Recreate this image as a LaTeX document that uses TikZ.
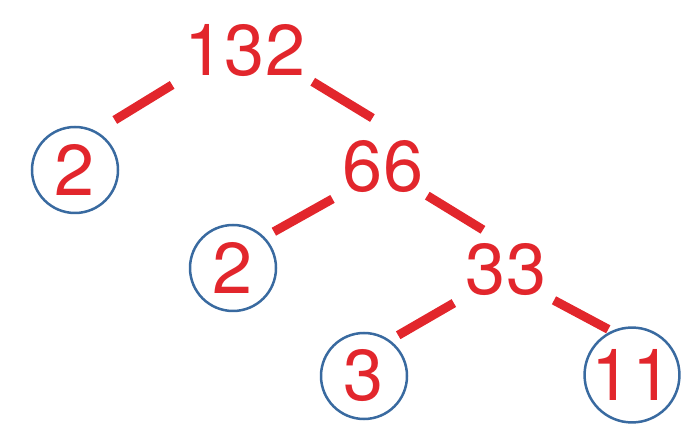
\documentclass[tikz,border=0pt]{standalone}
\usepackage{fontspec}
\setmainfont{TeX Gyre Heros}
\usepackage{tikz}
\definecolor{treered}{RGB}{226,38,44}
\definecolor{ringblue}{RGB}{57,106,160}

\begin{document}
\begin{tikzpicture}[x=1pt, y=-1pt,
		zahl/.style={text=treered, font=\fontsize{72}{72}\selectfont, inner sep=0pt, outer sep=0pt},
		kreis/.style={zahl, draw=ringblue, line width=2.5pt, circle, minimum size=86pt},
		ast/.style={draw=treered, line width=9pt}]
		%Bildbereich
		\useasboundingbox (0,0) rectangle (699,427);
		% Zahlen
		\node[zahl] (n132) at (245,51) {132};
		\node[zahl] (n66) at (383,167) {66};
		\node[zahl] (n33) at (506,270) {33};
		% Primfaktoren
		\node[kreis] (c2a) at (75,170) {2};
		\node[kreis] (c2b) at (233,268) {2};
		\node[kreis] (c3) at (364,376) {3};
		\node[kreis] (c11) at (632,375) {11};
		% Aeste zeichnen
		\draw[ast, shorten <=15pt, shorten >=23pt] (n132.south west) -- (c2a.62);
		\draw[ast, shorten <=9pt, shorten >=44pt] (n132.south east) -- (n66.44);
		\draw[ast, shorten <=12pt, shorten >=12pt] (n66.south west) -- (c2b.north east);
		\draw[ast, shorten <=5pt, shorten >=27pt] (n66.south east) -- (n33.north);
		\draw[ast, shorten <=14pt, shorten >=11pt] (n33.south west) -- (c3.55);
		\draw[ast, shorten <=9pt, shorten >=5pt] (n33.south east) -- (c11.114);
	\end{tikzpicture}
\end{document}
